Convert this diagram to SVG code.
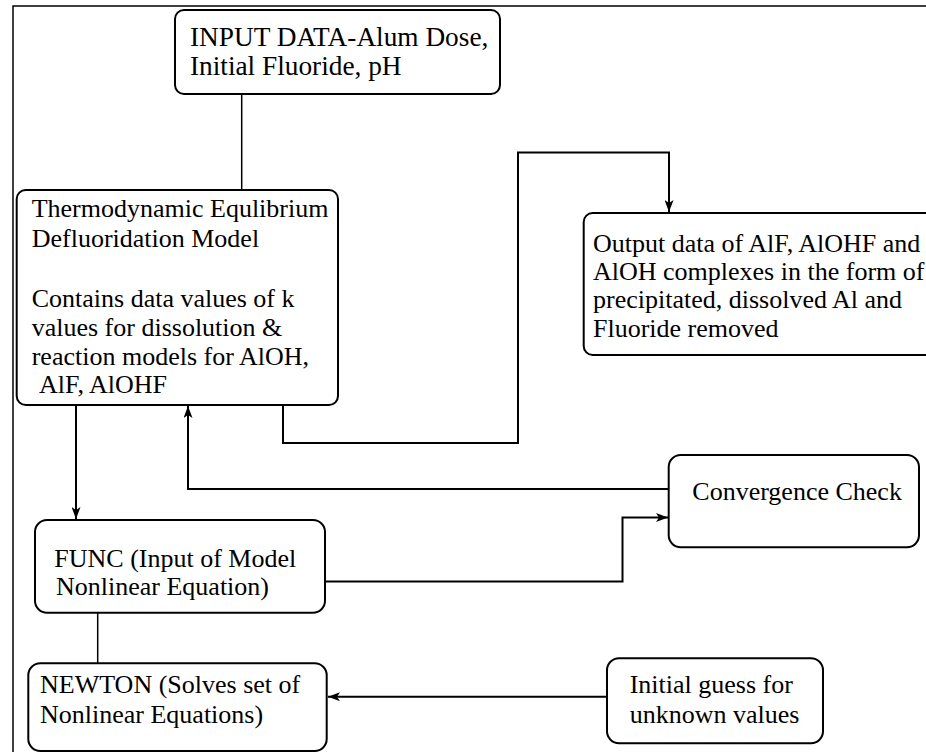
<svg xmlns="http://www.w3.org/2000/svg" width="926" height="752" viewBox="0 0 926 752">
<style>
.box{fill:#fff;stroke:#000;stroke-width:2}
.t{font-family:'Liberation Serif',serif;font-size:26px;fill:#000}
.big{font-size:27.3px}
.c{fill:none;stroke:#000;stroke-width:2}
.c1{fill:none;stroke:#000;stroke-width:1.5}
</style>
<defs>
<marker id="ah" viewBox="0 0 12 9" refX="12" refY="4.5" markerWidth="12" markerHeight="9" markerUnits="userSpaceOnUse" orient="auto">
<path d="M0,0 L12,4.5 L0,9 L3,4.5 Z" fill="#000"/>
</marker>
</defs>
<rect width="926" height="752" fill="#fff"/>
<g id="frame">
<path d="M13,752 V6 H926" fill="none" stroke="#000" stroke-width="1.5"/>
</g>
<g id="connectors">
<path class="c1" d="M241.7,94 V190"/>
<path class="c" d="M76,405 V519" marker-end="url(#ah)"/>
<path class="c" d="M669,489 H188 V406" marker-end="url(#ah)"/>
<path class="c" d="M283,405 V443 H518 V152.5 H669 V212" marker-end="url(#ah)"/>
<path class="c" d="M325,581.5 H622.5 V517.5 H668" marker-end="url(#ah)"/>
<path class="c1" d="M97.7,612.7 V663.3"/>
<path class="c" d="M607,696.7 H328" marker-end="url(#ah)"/>
</g>
<g id="input">
<rect class="box" x="175" y="10" width="325" height="84" rx="9"/>
<text class="t big" x="190" y="45.5" font-family="Liberation Serif">INPUT DATA-Alum Dose,</text>
<text class="t big" x="190" y="75" font-family="Liberation Serif">Initial Fluoride, pH</text>
</g>
<g id="thermo">
<rect class="box" x="16.7" y="190" width="321.3" height="215" rx="9"/>
<text class="t" x="31.7" y="216.7" font-family="Liberation Serif">Thermodynamic Equlibrium</text>
<text class="t" x="31.7" y="246.7" font-family="Liberation Serif">Defluoridation Model</text>
<text class="t" x="31.7" y="306.7" font-family="Liberation Serif">Contains data values of k</text>
<text class="t" x="31.7" y="336" font-family="Liberation Serif">values for dissolution &amp;</text>
<text class="t" x="31.7" y="365" font-family="Liberation Serif">reaction models for AlOH,</text>
<text class="t" x="39" y="393.3" font-family="Liberation Serif">AlF, AlOHF</text>
</g>
<g id="output">
<rect class="box" x="583.7" y="213" width="360" height="142" rx="9"/>
<text class="t" x="593" y="251.7" font-family="Liberation Serif">Output data of AlF, AlOHF and</text>
<text class="t" x="593" y="280" font-family="Liberation Serif">AlOH complexes in the form of</text>
<text class="t" x="593" y="308.3" font-family="Liberation Serif">precipitated, dissolved Al and</text>
<text class="t" x="593" y="336.7" font-family="Liberation Serif">Fluoride removed</text>
</g>
<g id="convergence">
<rect class="box" x="668.7" y="455" width="250.3" height="92.3" rx="12"/>
<text class="t" x="692.3" y="500" font-family="Liberation Serif">Convergence Check</text>
</g>
<g id="func">
<rect class="box" x="35" y="520" width="290" height="92.7" rx="12"/>
<text class="t" x="54.3" y="566.7" font-family="Liberation Serif">FUNC (Input of Model</text>
<text class="t" x="56" y="595" font-family="Liberation Serif">Nonlinear Equation)</text>
</g>
<g id="newton">
<rect class="box" x="28.3" y="663.3" width="298.4" height="87.7" rx="12"/>
<text class="t" x="40" y="693.3" font-family="Liberation Serif">NEWTON (Solves set of</text>
<text class="t" x="40" y="723.3" font-family="Liberation Serif">Nonlinear Equations)</text>
</g>
<g id="guess">
<rect class="box" x="607" y="658.3" width="216" height="85" rx="12"/>
<text class="t" x="629.7" y="693.3" font-family="Liberation Serif">Initial guess for</text>
<text class="t" x="629.7" y="723.3" font-family="Liberation Serif">unknown values</text>
</g>
</svg>
